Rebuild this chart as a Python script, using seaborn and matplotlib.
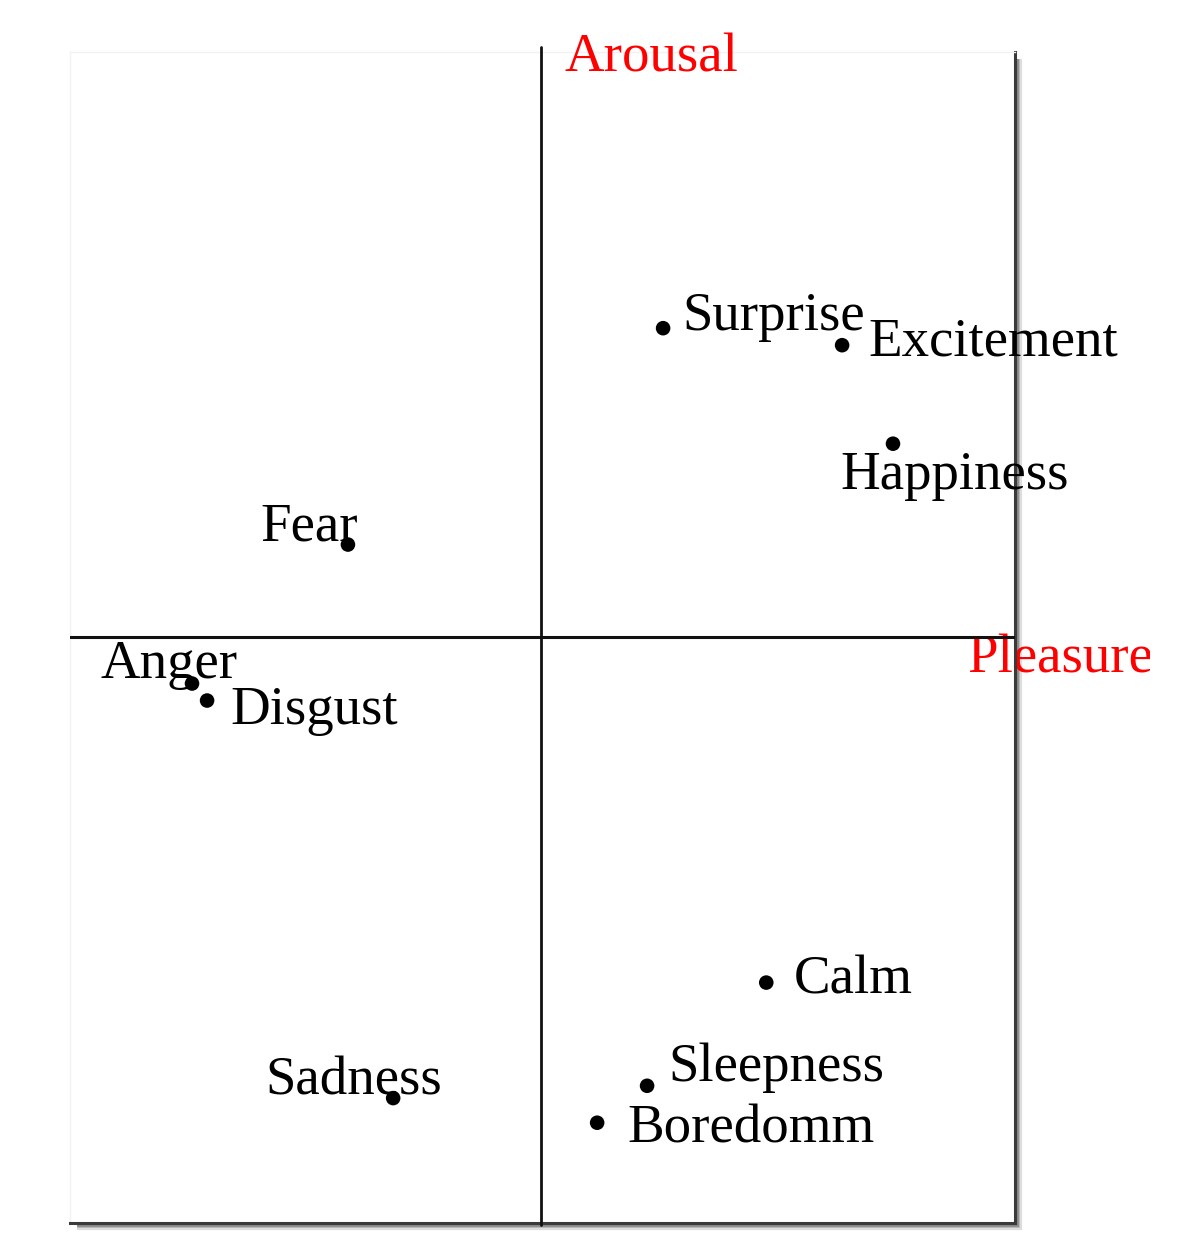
import matplotlib
matplotlib.use("Agg")
import matplotlib.pyplot as plt
from matplotlib.transforms import Bbox, TransformedBbox
import seaborn as sns
import pandas as pd

# ---- data (pleasure, arousal) ----
emotions = ["Surprise", "Excitement", "Happiness", "Fear", "Anger",
            "Disgust", "Calm", "Sleepness", "Boredomm", "Sadness"]
pleasure = [0.259, 0.639, 0.747, -0.410, -0.741, -0.709, 0.478, 0.225, 0.119, -0.314]
arousal = [0.526, 0.497, 0.329, 0.157, -0.080, -0.109, -0.590, -0.766, -0.829, -0.787]
# label offsets (pixels) from each point: (dx, dy)
label_dx = [19, 26, -53, -88, -92, 23, 27, 21, 30, -128]
label_dy = [-2, -10, -45, 4, 6, -23, -11, 5, -20, 4]
axis_x_label = "Pleasure"
axis_y_label = "Arousal"

df = pd.DataFrame({"emotion": emotions, "pleasure": pleasure, "arousal": arousal})

sns.set_style("white")
plt.rcParams["font.family"] = ["Liberation Serif", "DejaVu Serif"]

W, H = 1200, 1256
fig = plt.figure(figsize=(W / 100, H / 100), dpi=100)
ax = fig.add_axes([70 / W, (H - 1223) / H, (1015 - 70) / W, (1223 - 52) / H])

sns.scatterplot(data=df, x="pleasure", y="arousal", ax=ax, color="black",
                s=110, edgecolor="none", zorder=5, legend=False)

ax.set_xlim(-1, 1.006)
ax.set_ylim(-1.0, 0.997)
ax.set_xticks([])
ax.set_yticks([])
ax.set_xlabel("")
ax.set_ylabel("")

# frame: faint top/left, dark right/bottom with shadow
for side in ["top", "left"]:
    ax.spines[side].set_color("#f2f2f2")
    ax.spines[side].set_linewidth(1.0)
for side in ["right", "bottom"]:
    ax.spines[side].set_color("#3a3a3a")
    ax.spines[side].set_linewidth(2.2)

# shadow lines (display offsets)
shadow_cols = ["#606060", "#8a8a8a", "#b5b5b5", "#dddddd"]
for i, c in enumerate(shadow_cols):
    off = (i + 1) * 1.6
    ax.plot([1 + off / 945, 1 + off / 945], [1 - 8 / 1171, -off / 1171],
            transform=ax.transAxes, color=c, lw=1.6, clip_on=False, zorder=1)
    ax.plot([8 / 945, 1 + off / 945], [-off / 1171, -off / 1171],
            transform=ax.transAxes, color=c, lw=1.6, clip_on=False, zorder=1)

# quadrant axes
ax.axhline(0, color="#111111", lw=2.2, zorder=3)
ax.plot([0, 0], [-1.003, 1.005], color="#111111", lw=2.0, clip_on=False, zorder=3)

# point labels
for name, x, y, dx, dy in zip(emotions, pleasure, arousal, label_dx, label_dy):
    ax.annotate(name, (x, y), xytext=(dx, dy), textcoords="offset pixels",
                ha="left", va="baseline", fontsize=39.5, color="black", zorder=6)

# axis names
ax.text(0.049, 0.963, axis_y_label, ha="left", va="baseline",
        fontsize=39.5, color="red", zorder=6)
t = ax.text(0.905, -0.061, axis_x_label, ha="left", va="baseline",
            fontsize=39.5, color="red", zorder=2)
t.set_clip_box(TransformedBbox(Bbox([[0, 0], [1150 / W, 1]]), fig.transFigure))
t.set_clip_on(True)

fig.savefig("out.png", dpi=100, facecolor="white")
